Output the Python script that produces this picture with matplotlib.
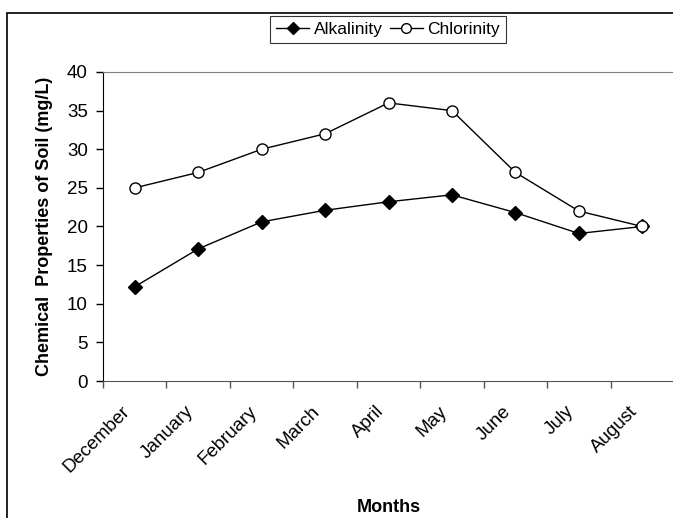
import numpy as np
import matplotlib.pyplot as plt
from matplotlib.patches import Rectangle
from matplotlib.lines import Line2D

plt.rcParams['font.family'] = ['Liberation Sans', 'DejaVu Sans']

months = ['December', 'January', 'February', 'March', 'April',
          'May', 'June', 'July', 'August']
alkalinity = [12.2, 17.1, 20.6, 22.1, 23.2, 24.1, 21.8, 19.1, 20.0]
chlorinity = [25, 27, 30, 32, 36, 35, 27, 22, 20]
y_ticks = [0, 5, 10, 15, 20, 25, 30, 35, 40]

W, H = 673, 518
fig = plt.figure(figsize=(W / 100, H / 100), dpi=100)

# outer chart border (runs off the right and bottom edge like the crop)
fig.patches.append(Rectangle((6.5 / W, -0.1), 1.2, 1 - 13 / H + 0.1,
                             transform=fig.transFigure, fill=False,
                             edgecolor='black', linewidth=1.2))

# plot area: 9 categories from x=103 to just past the right edge
ax = fig.add_axes([103 / W, 1 - 381 / H, (674 - 103) / W, (381 - 72) / H])
x = np.arange(len(months))
ax.plot(x, alkalinity, color='black', linewidth=1, marker='D',
        markersize=7, markerfacecolor='black', markeredgecolor='black',
        clip_on=False, zorder=3)
ax.plot(x, chlorinity, color='black', linewidth=1, marker='o',
        markersize=8, markerfacecolor='white', markeredgecolor='black',
        clip_on=False, zorder=3)

ax.set_xlim(-0.5, 8.5)
ax.set_ylim(0, 40)
ax.set_yticks(y_ticks)
ax.tick_params(axis='y', labelsize=13.5, length=5, width=1, pad=6)

# ticks between categories; rotated labels end a little left of centre
ax.set_xticks(np.arange(-0.5, 8.6, 1))
ax.set_xticklabels([])
ax.set_xticks(x - 0.12, minor=True)
ax.set_xticklabels(months, minor=True, rotation=45, ha='right',
                   va='center', rotation_mode='anchor', fontsize=13.5)
ax.tick_params(axis='x', which='major', length=5, width=1, color='#555555')
ax.tick_params(axis='x', which='minor', length=0, pad=20)

ax.spines['right'].set_visible(False)
ax.spines['top'].set_color('#808080')
ax.spines['bottom'].set_color('#555555')
ax.spines['left'].set_color('black')

ax.set_ylabel('Chemical  Properties of Soil (mg/L)', fontsize=13,
              fontweight='bold', labelpad=10)
fig.text(389 / W, 1 - 507 / H, 'Months', fontsize=13, fontweight='bold',
         ha='center', va='center')

handles = [
    Line2D([], [], color='black', linewidth=1, marker='D', markersize=6,
           markerfacecolor='black'),
    Line2D([], [], color='black', linewidth=1, marker='o', markersize=7,
           markerfacecolor='white', markeredgecolor='black'),
]
leg = fig.legend(handles, ['Alkalinity', 'Chlorinity'], loc='center',
                 bbox_to_anchor=(388 / W, 1 - 29.5 / H), ncol=2,
                 fontsize=12.5, frameon=True, fancybox=False,
                 edgecolor='black', handlelength=1.9, handletextpad=0.25,
                 columnspacing=0.4, borderpad=0.35, borderaxespad=0)
leg.get_frame().set_linewidth(0.8)

fig.savefig('out.png', dpi=100)
